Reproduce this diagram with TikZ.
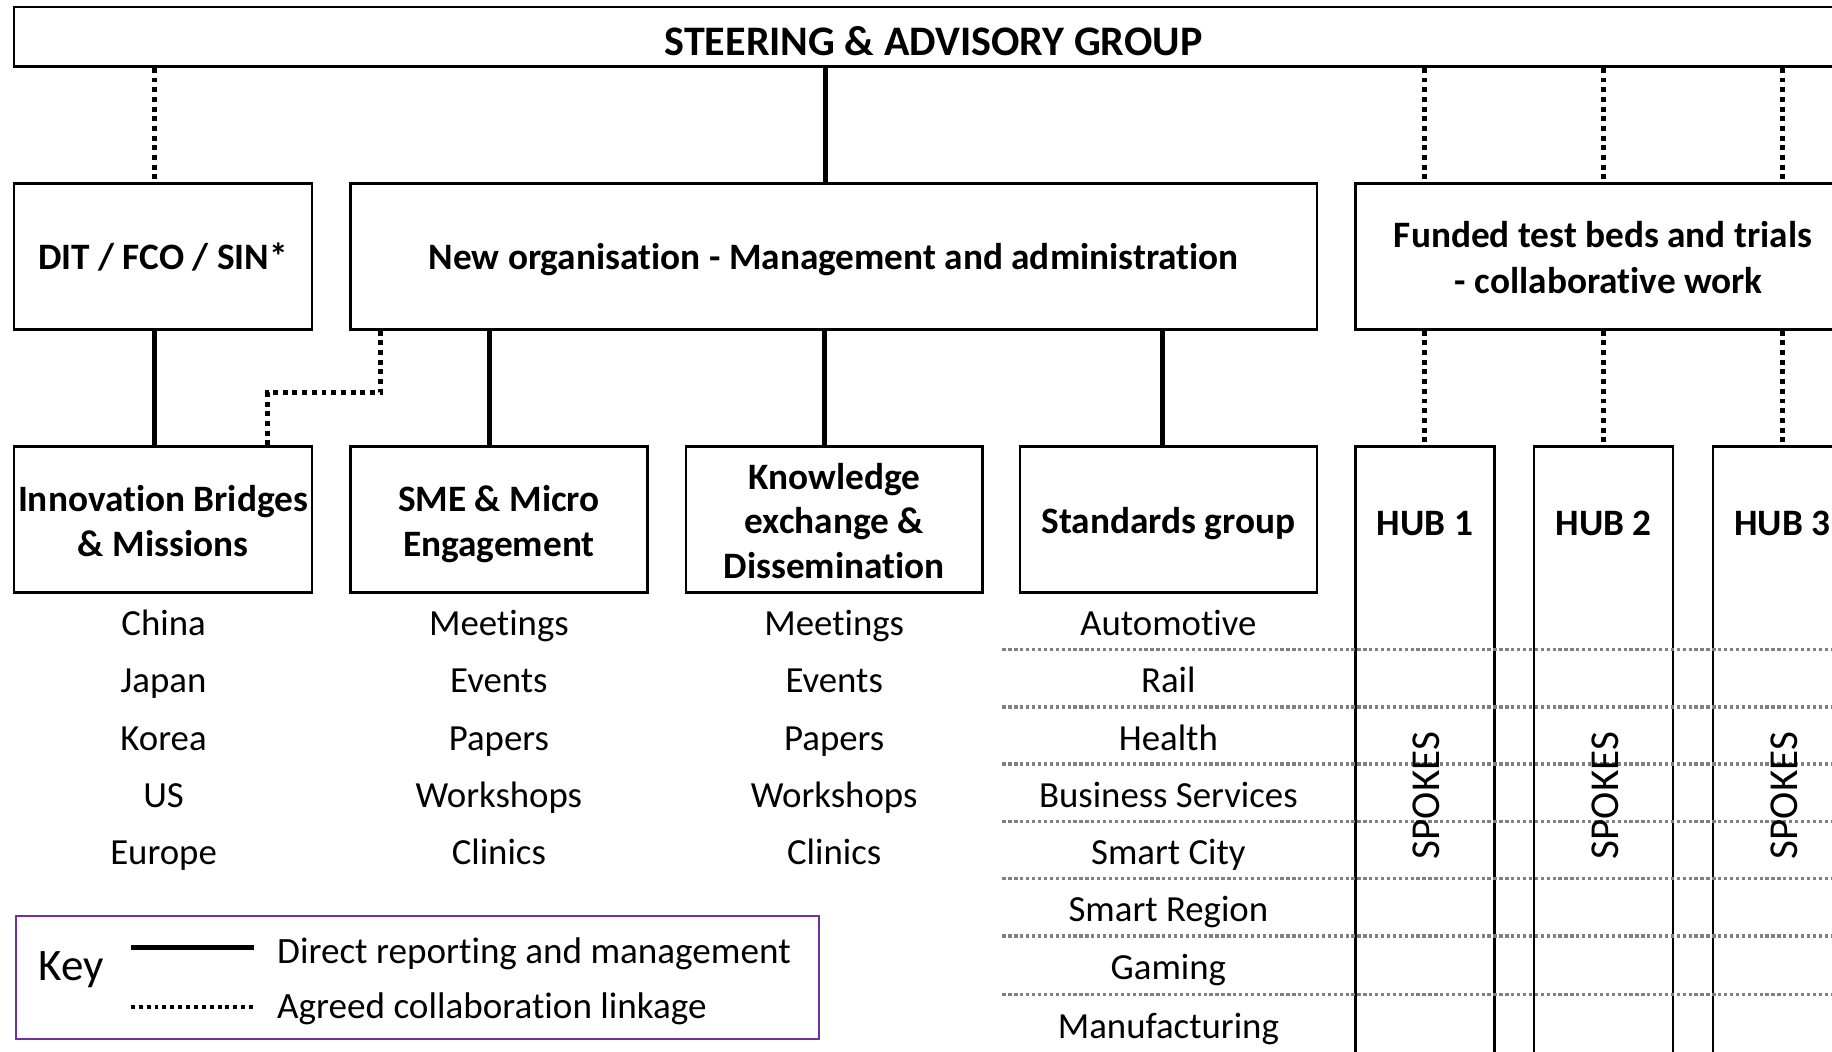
\documentclass[tikz,border=0pt]{standalone}
\usepackage{fontspec}
\setmainfont{Carlito}[Ligatures={NoCommon,NoContextual},RawFeature={-liga;-clig;-calt;-dlig}]
\definecolor{keypurple}{HTML}{7030A0}
\begin{document}
\begin{tikzpicture}[x=0.025cm,y=-0.025cm,
  box/.style={draw, line width=1.5pt, inner sep=0pt},
  btext/.style={anchor=base, inner sep=0pt, font=\bfseries\fontsize{22.7}{27}\selectfont},
  item/.style={anchor=base, inner sep=0pt, font=\fontsize{22.4}{27}\selectfont},
  solidline/.style={line width=3pt},
  dotline/.style={line width=3pt, dash pattern=on 3pt off 2.9pt},
  sepline/.style={line width=2pt, draw=gray, dash pattern=on 2pt off 1.6pt},
  keydot/.style={line width=2.6pt, dash pattern=on 2.4pt off 2.4pt},
]
\useasboundingbox (0,0) rectangle (1568,900);
\clip (0,0) rectangle (1568,900);

% top
\node[box, minimum width=1574*0.025cm, minimum height=51*0.025cm] (sag) at (799,31.5) {};
\node[btext, font=\bfseries\fontsize{25.6}{30}\selectfont] (sagT) at (799,47.5) {STEERING \& ADVISORY GROUP};

% row 2
\node[box, minimum width=255*0.025cm, minimum height=125*0.025cm] (dit) at (139.5,219.5) {};
\node[btext] (ditT) at (139.5,231) {DIT / FCO / SIN*};
\node[box, minimum width=827*0.025cm, minimum height=125*0.025cm] (neworg) at (713.5,219.5) {};
\node[btext] (neworgT) at (713.5,231) {New organisation - Management and administration};
\node[box, minimum width=424*0.025cm, minimum height=125*0.025cm] (funded) at (1372,219.5) {};
\node[btext] (fundedA) at (1372,212) {Funded test beds and trials};
\node[btext] (fundedB) at (1377,251) {- collaborative work};

% row 3
\node[box, minimum width=255*0.025cm, minimum height=125*0.025cm] (innov) at (139.5,444.5) {};
\node[btext] (innovA) at (139.5,438) {Innovation Bridges};
\node[btext] (innovB) at (139.5,476) {\& Missions};
\node[box, minimum width=254*0.025cm, minimum height=125*0.025cm] (sme) at (427,444.5) {};
\node[btext] (smeA) at (427,438) {SME \& Micro};
\node[btext] (smeB) at (427,476) {Engagement};
\node[box, minimum width=254*0.025cm, minimum height=125*0.025cm] (know) at (714,444.5) {};
\node[btext] (knowA) at (714,419) {Knowledge};
\node[btext] (knowB) at (714,457) {exchange \&};
\node[btext] (knowC) at (714,495) {Dissemination};
\node[box, minimum width=254*0.025cm, minimum height=125*0.025cm] (std) at (1000,444.5) {};
\node[btext] (stdT) at (1000,457) {Standards group};

% hubs
\node[box, minimum width=119*0.025cm, minimum height=533*0.025cm] (hub1) at (1219.5,648.5) {};
\node[box, minimum width=119*0.025cm, minimum height=533*0.025cm] (hub2) at (1372.5,648.5) {};
\node[box, minimum width=119*0.025cm, minimum height=533*0.025cm] (hub3) at (1525.5,648.5) {};
\node[btext] (h1t) at (1219.5,458) {HUB 1};
\node[btext] (h2t) at (1372.5,458) {HUB 2};
\node[btext] (h3t) at (1525.5,458) {HUB 3};

% separator lines (standards)
\foreach \yy in {556,605,654,703,752,801,851}
  \draw[sepline] (858,\yy) -- (1600,\yy);

\node[rotate=90, inner sep=0pt, font=\fontsize{25}{30}\selectfont] (sp1) at (1221,681) {SPOKES};
\node[rotate=90, inner sep=0pt, font=\fontsize{25}{30}\selectfont] (sp2) at (1374,681) {SPOKES};
\node[rotate=90, inner sep=0pt, font=\fontsize{25}{30}\selectfont] (sp3) at (1527,681) {SPOKES};

% connectors
\draw[dotline] ([xshift=-0.175cm]dit.north |- sag.south) -- ([xshift=-0.175cm]dit.north);
\draw[solidline] ([xshift=-0.175cm]neworg.north |- sag.south) -- ([xshift=-0.175cm]neworg.north);
\draw[dotline] (hub1.north |- sag.south) -- (hub1.north |- funded.north);
\draw[dotline] (hub2.north |- sag.south) -- (hub2.north |- funded.north);
\draw[dotline] (hub3.north |- sag.south) -- (hub3.north |- funded.north);

\draw[solidline] ([xshift=-0.175cm]dit.south) -- ([xshift=-0.175cm]innov.north);
\draw[dotline] ([xshift=0.675cm]neworg.south west) -- ++(0,53) -| ([xshift=-0.975cm]innov.north east);
\draw[solidline] ([xshift=-0.2cm]sme.north |- neworg.south) -- ([xshift=-0.2cm]sme.north);
\draw[solidline] ([xshift=-0.2cm]know.north |- neworg.south) -- ([xshift=-0.2cm]know.north);
\draw[solidline] ([xshift=-0.125cm]std.north |- neworg.south) -- ([xshift=-0.125cm]std.north);
\draw[dotline] (hub1.north |- funded.south) -- (hub1.north);
\draw[dotline] (hub2.north |- funded.south) -- (hub2.north);
\draw[dotline] (hub3.north |- funded.south) -- (hub3.north);

% lists
\node[item] (c1) at (140,544) {China};
\node[item] (c2) at (140,593) {Japan};
\node[item] (c3) at (140,642) {Korea};
\node[item] (c4) at (140,691) {US};
\node[item] (c5) at (140,740) {Europe};

\node[item] (s1) at (427,544) {Meetings};
\node[item] (s2) at (427,593) {Events};
\node[item] (s3) at (427,642) {Papers};
\node[item] (s4) at (427,691) {Workshops};
\node[item] (s5) at (427,740) {Clinics};

\node[item] (k1) at (714,544) {Meetings};
\node[item] (k2) at (714,593) {Events};
\node[item] (k3) at (714,642) {Papers};
\node[item] (k4) at (714,691) {Workshops};
\node[item] (k5) at (714,740) {Clinics};

\node[item] (t1) at (1000,544) {Automotive};
\node[item] (t2) at (1000,593) {Rail};
\node[item] (t3) at (1000,642) {Health};
\node[item] (t4) at (1000,691) {Business Services};
\node[item] (t5) at (1000,740) {Smart City};
\node[item] (t6) at (1000,789) {Smart Region};
\node[item] (t7) at (1000,838) {Gaming};
\node[item] (t8) at (1000,889) {Manufacturing};

% key
\node[draw=keypurple, line width=1.1pt, minimum width=687*0.025cm, minimum height=105*0.025cm, inner sep=0pt] (keybox) at (357.5,836.5) {};
\node[inner sep=0pt, font=\fontsize{27.4}{32}\selectfont] (keyt) at (61,830) {Key};
\coordinate (ks1) at (112,811);
\coordinate (ks2) at (217,811);
\coordinate (kd1) at (112,862);
\coordinate (kd2) at (217,862);
\draw[solidline, line width=3.4pt] (ks1) -- (ks2);
\draw[keydot] (kd1) -- (kd2);
\node[anchor=base west, inner sep=0pt, font=\fontsize{22.6}{27}\selectfont] (kl1) at (237,825) {Direct reporting and management};
\node[anchor=base west, inner sep=0pt, font=\fontsize{22.6}{27}\selectfont] (kl2) at (237,872) {Agreed collaboration linkage};
\end{tikzpicture}
\end{document}
